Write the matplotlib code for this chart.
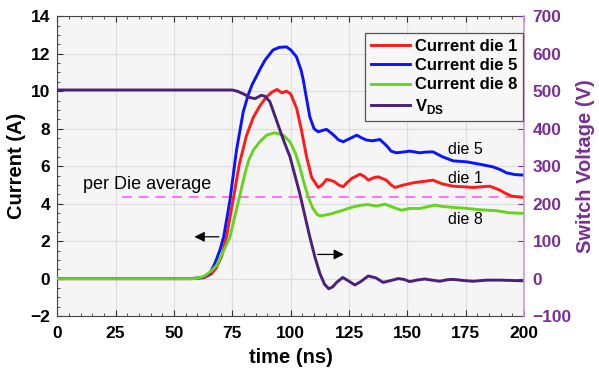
import matplotlib
matplotlib.use("Agg")
import matplotlib.pyplot as plt
from matplotlib.ticker import MultipleLocator
import numpy as np

plt.rcParams['font.family'] = ['Liberation Sans', 'DejaVu Sans']
plt.rcParams['mathtext.fontset'] = 'custom'
plt.rcParams['mathtext.bf'] = 'Liberation Sans:bold'
plt.rcParams['mathtext.rm'] = 'Liberation Sans'

# die 5 current (A)
t_die5 = [0, 57, 62, 65.4, 67.5, 69.7, 71.3, 74, 76.8, 79.7, 81.8, 83.5, 85.4, 87, 89, 92.4, 95,
          98.2, 100, 102.5, 104.5, 105.4, 106.8, 108.2, 110, 111.8, 113.5, 115.4, 118,
          120.5, 122.5, 125, 128.3, 130.5, 132.5, 135, 138.2, 141, 143, 145.3, 148, 151,
          155.3, 158, 161, 165, 169.6, 175.3, 181, 186.7, 190, 192.5, 196, 200]
i_die5 = [0, 0, 0.05, 0.28, 0.8, 1.52, 2.23, 4.19, 6.85, 8.9, 9.8, 10.35, 10.8, 11.2, 11.65, 12.19, 12.33,
          12.36, 12.2, 11.83, 11.1, 10.6, 9.6, 8.63, 8.0, 7.83, 7.9, 7.96, 7.7,
          7.4, 7.3, 7.45, 7.65, 7.5, 7.39, 7.35, 7.42, 7.1, 6.8, 6.71, 6.75, 6.8,
          6.71, 6.75, 6.76, 6.5, 6.28, 6.23, 6.1, 5.96, 5.8, 5.64, 5.55, 5.52]

# die 1 current (A)
t_die1 = [0, 58, 63, 66, 68, 70.5, 72.5, 75.5, 78, 81, 84, 87, 89.7, 92, 94.2, 96.1, 98.2,
          100, 102.5, 104.5, 106.8, 109, 111.8, 113.5, 115.4, 117, 118.9, 120.5, 122.5,
          124, 126.1, 129.7, 131.5, 133.3, 135.5, 137.5, 141, 143, 144.7, 148.2, 152.5,
          155.3, 158, 161, 165, 169.6, 174, 178.2, 182, 185.3, 189.6, 192, 194.6, 200]
i_die1 = [0, 0, 0.05, 0.25, 0.55, 1.2, 2.23, 4.3, 6.1, 7.6, 8.6, 9.25, 9.7, 9.95, 10.09, 9.91, 10.0,
          9.85, 9.1, 8.0, 6.5, 5.4, 4.86, 5.0, 5.29, 5.25, 5.16, 5.0, 4.9,
          5.1, 5.34, 5.57, 5.45, 5.25, 5.38, 5.43, 5.25, 5.0, 4.86, 4.99, 5.11,
          5.16, 5.2, 5.25, 5.05, 4.93, 4.9, 4.86, 4.9, 4.93, 4.72, 4.55, 4.4, 4.33]

# die 8 current (A)
t_die8 = [0, 59, 62.5, 65.5, 68.3, 71, 74, 77, 80.4, 82, 84, 86.8, 89.7, 93.2, 96.8, 99.7, 102,
          103.9, 105.5, 107.5, 109.5, 111.5, 113, 116.8, 122.5, 126, 130.4, 133, 136.8,
          140.4, 144, 147.5, 151, 155.3, 161.8, 165, 169.6, 175, 179.6, 184, 188.2, 194, 200]
i_die8 = [0, 0, 0.1, 0.35, 0.72, 1.4, 2.23, 3.8, 5.6, 6.3, 6.85, 7.3, 7.65, 7.78, 7.65, 7.3, 6.7,
          5.96, 5.2, 4.36, 3.75, 3.4, 3.35, 3.44, 3.65, 3.8, 3.92, 3.95, 3.87,
          3.97, 3.8, 3.65, 3.74, 3.74, 3.92, 3.85, 3.8, 3.75, 3.69, 3.65, 3.62, 3.51, 3.48]

# switch voltage VDS (V)
t_vds = [0, 75, 77, 80, 82.5, 84.7, 87.5, 89, 91.1, 93.2, 95.4, 97.5, 99.7, 103.9, 108.2,
         110.5, 112.5, 114.5, 116.3, 118, 119.7, 122.3, 124.5, 127.5, 130, 133.2, 136.5,
         139.6, 143, 146, 148.5, 151, 154, 157.4, 160.5, 163.9, 167, 169.6, 174, 178.2,
         184, 189.6, 195, 200]
v_ds = [503, 503, 500, 492, 483, 480, 489, 486, 472, 435, 396, 360, 325, 227, 111,
        55, 14, -15, -27, -22, -10, 3, -5, -17, -8, 7, 2,
        -10, -5, 0, -2, -8, -4, -1, -4, -7, -3, -2, -5, -7,
        -4, -4, -5, -6]

avg_current = 4.36
avg_start = 27.6

col_red = '#ff1a1a'
col_blue = '#0a14ff'
col_green = '#66d41e'
col_vds = '#4b1f7a'
col_right = '#7a2f96'

fig = plt.figure(figsize=(5.99, 3.75), dpi=100)
ax = fig.add_axes([0.0955, 0.157, 0.7795, 0.8])
ax.set_facecolor('#f5f5f5')
ax2 = ax.twinx()

l1, = ax.plot(t_die1, i_die1, color=col_red, lw=2.1, label='Current die 1', zorder=3)
l5, = ax.plot(t_die5, i_die5, color=col_blue, lw=2.1, label='Current die 5', zorder=3)
l8, = ax.plot(t_die8, i_die8, color=col_green, lw=2.1, label='Current die 8', zorder=3)
ax.plot([avg_start, 200], [avg_current, avg_current], color='#ff5cff', lw=1.2,
        dashes=(6, 4), zorder=2)
lv, = ax2.plot(t_vds, v_ds, color=col_vds, lw=2.1, label=r'$\mathbf{V}_{\mathbf{DS}}$')

ax.set_xlim(0, 200)
ax.set_ylim(-2, 14)
ax2.set_ylim(-100, 700)
ax.xaxis.set_major_locator(MultipleLocator(25))
ax.xaxis.set_minor_locator(MultipleLocator(5))
ax.yaxis.set_major_locator(MultipleLocator(2))
ax.yaxis.set_minor_locator(MultipleLocator(0.5))
ax2.yaxis.set_major_locator(MultipleLocator(100))
ax.grid(True, which='major', color='#dcdcdc', lw=0.8)
ax.set_axisbelow(True)

ax.tick_params(which='both', direction='in', top=True, right=False, labelsize=12.5,
               color='#333333')
ax.tick_params(axis='x', pad=7)
ax.tick_params(axis='y', pad=5)
ax.tick_params(which='major', length=4)
ax.tick_params(which='minor', length=2.5)
for lab in ax.get_xticklabels() + ax.get_yticklabels():
    lab.set_fontweight('bold')
ax2.tick_params(direction='in', colors=col_right, labelsize=12.5, length=4, pad=6)
for lab in ax2.get_yticklabels():
    lab.set_fontweight('bold')

for s in ['left', 'bottom', 'top']:
    ax.spines[s].set_color('#444444')
ax.spines['right'].set_visible(False)
ax2.spines['right'].set_color('#c39ad8')
ax2.spines['right'].set_linewidth(1.2)
for s in ['left', 'bottom', 'top']:
    ax2.spines[s].set_visible(False)

ax.set_xlabel('time (ns)', fontsize=14.5, fontweight='bold', labelpad=5)
ax.set_ylabel('Current (A)', fontsize=14.5, fontweight='bold', labelpad=3)
ax2.set_ylabel('Switch Voltage (V)', fontsize=14.5, fontweight='bold', color=col_right, labelpad=3)

ax.text(11, 5.0, 'per Die average', fontsize=13, va='center', ha='left')
ax.text(175, 6.9, 'die 5', fontsize=11.5, va='center', ha='center')
ax.text(175, 5.35, 'die 1', fontsize=11.5, va='center', ha='center')
ax.text(175, 3.15, 'die 8', fontsize=11.5, va='center', ha='center')
ax.annotate('', xy=(57.6, 2.23), xytext=(70.4, 2.23),
            arrowprops=dict(arrowstyle='-|>', color='black', lw=0.9,
                            mutation_scale=15))
ax.annotate('', xy=(124, 1.29), xytext=(110.4, 1.29),
            arrowprops=dict(arrowstyle='-|>', color='black', lw=0.9,
                            mutation_scale=15))

leg = ax2.legend(handles=[l1, l5, l8, lv], loc='upper right',
                 bbox_to_anchor=(0.997, 0.943), borderaxespad=0,
                 prop={'weight': 'bold', 'size': 12}, handlelength=2.3,
                 handletextpad=0.3, borderpad=0.35, labelspacing=0.25,
                 fancybox=False, framealpha=1, facecolor='#f7f7f7',
                 edgecolor='#555555')
leg.get_frame().set_linewidth(0.9)

fig.savefig('out.png', dpi=100)
